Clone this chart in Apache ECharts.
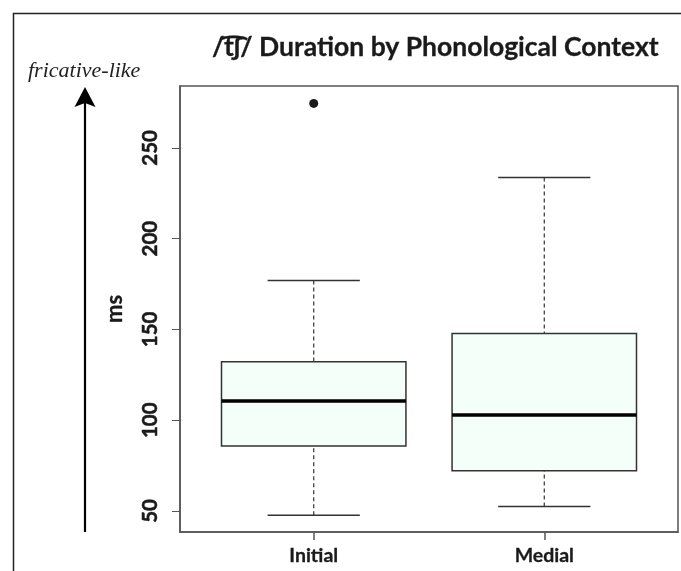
<!DOCTYPE html>
<html>
<head>
<meta charset="utf-8">
<script src="https://cdn.jsdelivr.net/npm/echarts@6/dist/echarts.min.js"></script>
<style>html,body{margin:0;padding:0;background:#fff;}#chart{width:681px;height:571px;}</style>
</head>
<body>
<div id="chart"></div>
<script>
const categories = ['Initial', 'Medial'];
const whiskerLow = [47.6, 52.4];
const q1 = [85.8, 72.2];
const median = [110.6, 102.8];
const q3 = [132.2, 147.8];
const whiskerHigh = [177.0, 233.7];
const outlierCategory = [0];
const outlierValue = [274.5];
const yTicks = [50, 100, 150, 200, 250];
const yMin = 38.4, yMax = 284.1;

const boxData = categories.map((c, i) => [i + 1, whiskerLow[i], q1[i], median[i], q3[i], whiskerHigh[i]]);
const outlierData = outlierCategory.map((ci, k) => [ci + 1, outlierValue[k]]);

const chart = echarts.init(document.getElementById('chart'), null, {renderer: 'canvas'});
const FONT = 'Lato';

function renderBox(params, api) {
  const x = api.value(0);
  const lo = api.value(1), a = api.value(2), m = api.value(3), b = api.value(4), hi = api.value(5);
  const hw = 0.4, cw = 0.2;
  const pL = api.coord([x - hw, a]), pR = api.coord([x + hw, b]);
  const mL = api.coord([x - hw, m]), mR = api.coord([x + hw, m]);
  const top = api.coord([x, hi]), bot = api.coord([x, lo]);
  const qTop = api.coord([x, b]), qBot = api.coord([x, a]);
  const capL = api.coord([x - cw, hi])[0], capR = api.coord([x + cw, hi])[0];
  const dash = {stroke: '#333', lineWidth: 1.2, lineDash: [4, 3]};
  const solid = {stroke: '#333', lineWidth: 1.5};
  return {
    type: 'group',
    children: [
      {type: 'line', shape: {x1: top[0], y1: top[1], x2: qTop[0], y2: qTop[1]}, style: dash},
      {type: 'line', shape: {x1: bot[0], y1: bot[1], x2: qBot[0], y2: qBot[1]}, style: dash},
      {type: 'line', shape: {x1: capL, y1: top[1], x2: capR, y2: top[1]}, style: solid},
      {type: 'line', shape: {x1: capL, y1: bot[1], x2: capR, y2: bot[1]}, style: solid},
      {type: 'rect', shape: {x: pL[0], y: pR[1], width: pR[0] - pL[0], height: pL[1] - pR[1]},
        style: {fill: '#f5fffa', stroke: '#333', lineWidth: 1.5}},
      {type: 'line', shape: {x1: mL[0], y1: mL[1], x2: mR[0], y2: mR[1]}, style: {stroke: '#000', lineWidth: 3.5}}
    ]
  };
}

chart.setOption({
  animation: false,
  backgroundColor: '#fff',
  title: {
    text: '/t\u0361\u0283/ Duration by Phonological Context',
    left: 207, top: 29,
    textStyle: {fontFamily: FONT, fontWeight: 'bold', fontSize: 26.5, color: '#1a1a1a',
      textBorderColor: '#1a1a1a', textBorderWidth: 0.3}
  },
  grid: {left: 180, top: 86, width: 498, height: 446, show: true, borderColor: '#555', borderWidth: 1.5, backgroundColor: 'transparent'},
  xAxis: {
    type: 'value', min: 0.42, max: 2.58,
    splitLine: {show: false},
    axisLine: {show: true, lineStyle: {color: '#555', width: 1.5}},
    axisTick: {show: true, length: 8, customValues: [1, 2], lineStyle: {color: '#555', width: 1.5}},
    axisLabel: {customValues: [1, 2], formatter: v => categories[Math.round(v) - 1], margin: 14,
      fontFamily: FONT, fontWeight: 'bold', fontSize: 19.5, color: '#1a1a1a',
      textBorderColor: '#1a1a1a', textBorderWidth: 0.3}
  },
  yAxis: {
    type: 'value', min: yMin, max: yMax,
    name: 'ms', nameLocation: 'middle', nameRotate: 90, nameGap: 54,
    nameTextStyle: {fontFamily: FONT, fontWeight: 'bold', fontSize: 22, color: '#1a1a1a',
      textBorderColor: '#1a1a1a', textBorderWidth: 0.3},
    splitLine: {show: false},
    axisLine: {show: true, lineStyle: {color: '#555', width: 1.5}},
    axisTick: {show: true, length: 8, customValues: yTicks, lineStyle: {color: '#555', width: 1}},
    axisLabel: {customValues: yTicks, rotate: 90, margin: 19,
      fontFamily: FONT, fontWeight: 'bold', fontSize: 20.5, color: '#1a1a1a',
      textBorderColor: '#1a1a1a', textBorderWidth: 0.5}
  },
  graphic: [
    {type: 'polyline', shape: {points: [[13.5, 571], [13.5, 13.5], [681, 13.5]]}, style: {stroke: '#222', lineWidth: 1.5, fill: null}},
    {type: 'line', shape: {x1: 85, y1: 532, x2: 85, y2: 100}, style: {stroke: '#000', lineWidth: 2.2}},
    {type: 'polygon', shape: {points: [[85, 87], [74.5, 107], [85, 103], [95.5, 107]]}, style: {fill: '#000'}},
    {type: 'text', left: 28, top: 60, style: {text: 'fricative-like', font: 'italic 22px "Liberation Serif"', fill: '#222'}}
  ],
  series: [
    {type: 'custom', renderItem: renderBox, data: boxData, encode: {x: 0, y: [1, 2, 3, 4, 5]}, clip: false, z: 3},
    {type: 'scatter', data: outlierData, symbol: 'circle', symbolSize: 9, itemStyle: {color: '#1a1a1a', opacity: 1}, z: 4}
  ]
});
</script>
</body>
</html>
